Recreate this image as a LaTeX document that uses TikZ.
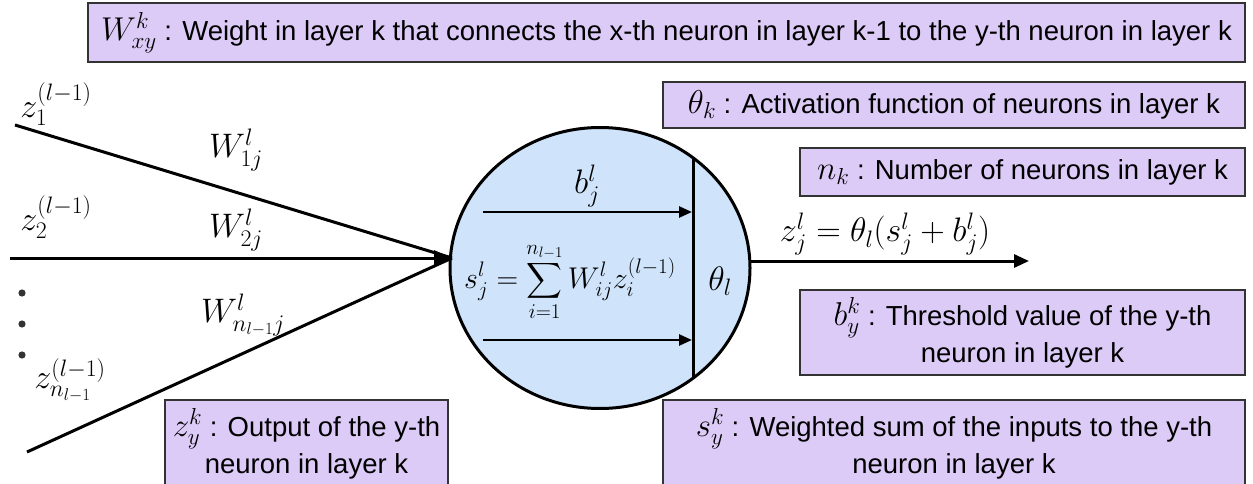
\RequirePackage{fix-cm}
\documentclass[tikz,border=0pt]{standalone}
\usepackage{exscale}
\usepackage{fontspec}
\setmainfont{Liberation Sans}
\usetikzlibrary{shapes.geometric,arrows.meta}
\definecolor{boxfill}{HTML}{DCCAF7}
\definecolor{boxline}{HTML}{333333}
\definecolor{neuronfill}{HTML}{CFE4FA}
\newcommand\mth[1]{{\fontsize{33}{37}\selectfont$#1$}}
\begin{document}
\begin{tikzpicture}[x=1pt,y=-1pt,
  every node/.style={font=\fontsize{27.5}{37}\selectfont},
  defbox/.style={draw=boxline, line width=1.4pt, fill=boxfill, align=center, inner sep=0pt},
  wire/.style={line width=3pt},
  inarrow/.style={line width=2.6pt, -{Triangle[length=13pt,width=11pt]}},
  bigarrow/.style={line width=3pt, -{Triangle[length=18pt,width=15pt]}},
  outarrow/.style={line width=3pt, -{Triangle[length=15pt,width=13pt]}},
  lbl/.style={inner sep=0pt, font=\fontsize{34}{40}\selectfont}]
\useasboundingbox (0,0) rectangle (1253,484);

% definition boxes
\node[defbox, minimum width=1157, minimum height=59] (dW) at (666.5,32.5)
  {\mth{W^k_{xy}} : Weight in layer k that connects the x-th neuron in layer k-1 to the y-th neuron in layer k};
\node[defbox, minimum width=582, minimum height=46] (dtheta) at (954,105)
  {\mth{\theta_k} : Activation function of neurons in layer k};
\node[defbox, minimum width=445, minimum height=48] (dn) at (1022.5,172)
  {\mth{n_k} : Number of neurons in layer k};
\node[defbox, minimum width=445, minimum height=85] (db) at (1022.5,332.5)
  {\mth{b^k_y} : Threshold value of the y-th\\neuron in layer k};
\node[defbox, minimum width=582, minimum height=88] (ds) at (954,444)
  {\mth{s^k_y} : Weighted sum of the inputs to the y-th\\neuron in layer k};
\node[defbox, minimum width=283, minimum height=88] (dz) at (306.5,444)
  {\mth{z^k_y} : Output of the y-th\\neuron in layer k};

% neuron
\node[ellipse, draw, line width=3pt, fill=neuronfill, minimum width=300, minimum height=281, inner sep=0pt] (neuron) at (600,268) {};
\coordinate (vt) at (693,158);
\coordinate (vb) at (693,378);
\draw[wire] (vt) -- (vb);
\coordinate (ba) at (483,212);
\coordinate (bb) at (692,212);
\coordinate (sa) at (483,340);
\coordinate (sb) at (692,340);
\draw[inarrow] (ba) -- (bb);
\draw[inarrow] (sa) -- (sb);
\node[lbl] (blbl) at (587,186) {$b^l_j$};
\node[lbl, font=\fontsize{30}{36}\selectfont] (sum) at (570,282) {$\displaystyle s^l_j = \sum_{i=1}^{n_{l-1}} W^l_{ij} z^{(l-1)}_i$};
\node[lbl] (th) at (720,281) {$\theta_l$};

% output
\coordinate (ostart) at (749,261);
\coordinate (oend) at (1029,261);
\draw[outarrow] (ostart) -- (oend);
\node[lbl] (olbl) at (885,234) {$z^l_j = \theta_l(s^l_j + b^l_j)$};

% inputs
\coordinate (conv) at (452,258);
\coordinate (i1) at (15,125);
\coordinate (i2) at (10,258);
\coordinate (i3) at (27,452);
\draw[wire] (i1) -- (conv);
\draw[wire] (i3) -- (conv);
\draw[bigarrow] (i2) -- (conv);
\node[lbl] (z1) at (56,104) {$z^{(l-1)}_1$};
\node[lbl] (z2) at (56,217) {$z^{(l-1)}_2$};
\node[lbl] (zn) at (70,380) {$z^{(l-1)}_{n_{l-1}}$};
\node[lbl] (w1) at (236,150) {$W^l_{1j}$};
\node[lbl] (w2) at (236,230) {$W^l_{2j}$};
\node[lbl] (wn) at (243,315) {$W^l_{n_{l-1}j}$};
\fill[black!80] (22,293) circle (3.6) (22,324) circle (3.6) (22,355) circle (3.6);
\end{tikzpicture}
\end{document}
